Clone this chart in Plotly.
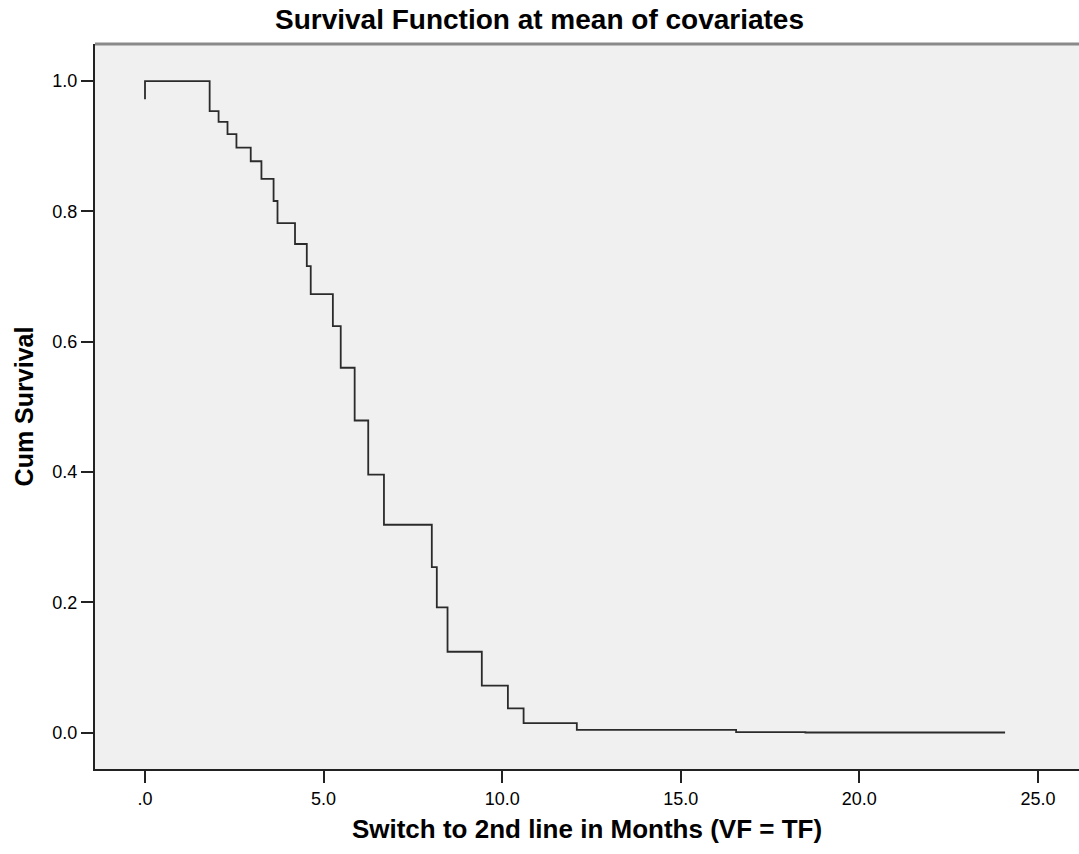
import plotly.graph_objects as go

# Step points of the survival function (time in months, cumulative survival)
times = [0, 0, 1.81, 2.06, 2.31, 2.56, 2.96, 3.26, 3.60, 3.71, 4.20, 4.53, 4.64,
         5.26, 5.48, 5.87, 6.25, 6.69, 8.03, 8.17, 8.47, 9.43, 10.16, 10.60,
         12.09, 16.55, 18.49, 24.08]
surv = [0.972, 1.0, 0.954, 0.9375, 0.9186, 0.898, 0.877, 0.850, 0.816, 0.782,
        0.750, 0.716, 0.673, 0.624, 0.560, 0.479, 0.396, 0.319, 0.254, 0.192,
        0.124, 0.072, 0.037, 0.0143, 0.004, 0.0005, 0.0, 0.0]

x_tickvals = [0, 5, 10, 15, 20, 25]
x_ticktext = [".0", "5.0", "10.0", "15.0", "20.0", "25.0"]
y_tickvals = [0.0, 0.2, 0.4, 0.6, 0.8, 1.0]
y_ticktext = ["0.0", "0.2", "0.4", "0.6", "0.8", "1.0"]

FONT = "Liberation Sans, Arial, sans-serif"

fig = go.Figure()
fig.add_trace(go.Scatter(
    x=times, y=surv, mode="lines", line_shape="hv",
    line=dict(color="#2b2b2b", width=1.8), showlegend=False,
))

fig.update_layout(
    width=1079, height=854,
    margin=dict(l=95, r=0, t=44, b=85),
    paper_bgcolor="white", plot_bgcolor="#F0F0F0",
    title=dict(text="<b>Survival Function at mean of covariates</b>",
               x=0.5, xref="container", xanchor="center",
               y=1 - 19 / 854, yanchor="middle",
               font=dict(family=FONT, size=28, color="black")),
    font=dict(family=FONT, color="black"),
    xaxis=dict(
        range=[-1.40, 26.15], tickvals=x_tickvals, ticktext=x_ticktext,
        ticks="outside", ticklen=12, tickwidth=2, tickcolor="#222",
        showgrid=False, zeroline=False, showline=True, linecolor="#222",
        linewidth=2, tickfont=dict(size=18, family=FONT),
        title=dict(text="<b>Switch to 2nd line in Months (VF = TF)</b>",
                   font=dict(size=26, family=FONT), standoff=12),
    ),
    yaxis=dict(
        range=[-0.056, 1.057], tickvals=y_tickvals, ticktext=y_ticktext,
        ticks="outside", ticklen=12, tickwidth=2, tickcolor="#222",
        showgrid=False, zeroline=False, showline=True, linecolor="#222",
        linewidth=2, tickfont=dict(size=18, family=FONT),
        title=dict(text="<b>Cum Survival</b>",
                   font=dict(size=25, family=FONT), standoff=12),
    ),
    shapes=[dict(type="line", xref="paper", yref="paper", x0=0, x1=1,
                 y0=1, y1=1, line=dict(color="#8a8a8a", width=3))],
)

fig.write_html("out.html")
